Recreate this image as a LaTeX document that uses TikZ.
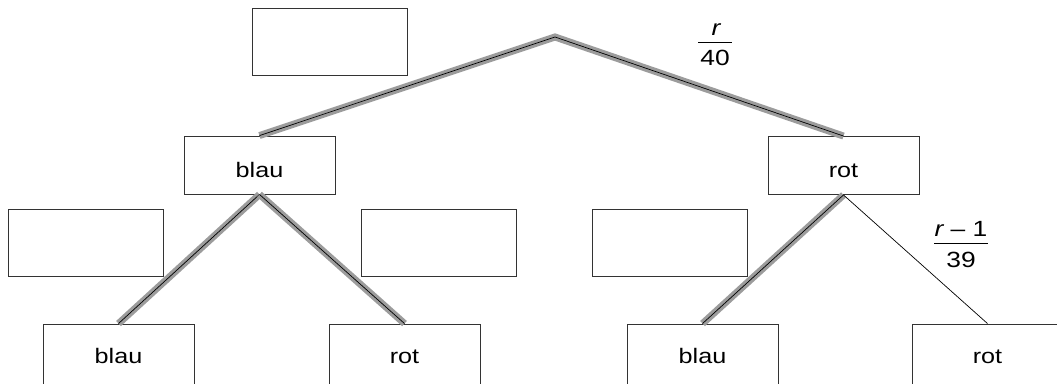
\documentclass[tikz,border=0pt]{standalone}
\usepackage{fontspec}
\setmainfont{Liberation Sans}[FakeStretch=1.2]
\definecolor{halo}{HTML}{9C9C9C}
\definecolor{boxline}{HTML}{333333}
\tikzset{
  box/.style={draw=boxline, line width=0.9pt, rectangle, minimum width=151pt, minimum height=58pt, inner sep=0pt, font=\fontsize{21}{24}\selectfont, text height=24pt, text depth=0pt},
  lbox/.style={box, minimum height=64pt, text height=20pt, text depth=5pt},
  blank/.style={draw=boxline, line width=0.9pt, rectangle, minimum width=155pt, minimum height=67pt, inner sep=0pt},
  halobg/.style={draw=halo, line width=7pt, line join=miter},
  thin/.style={draw=black, line width=0.7pt, line join=miter},
  frac/.style={font=\fontsize{22}{24}\selectfont, inner sep=0pt, anchor=base},
  fracbar/.style={draw=black, line width=0.9pt}
}
\begin{document}
\begin{tikzpicture}[x=1pt,y=-1pt]
\useasboundingbox (0,0) rectangle (1057,383);
\fill[white] (0,0) rectangle (1057,383);
% nodes
\coordinate (apex) at (555,37);
\node[blank] (b0) at (329.5,42) {};
\node[box] (m1) at (259.5,165) {blau};
\node[box] (m2) at (843.5,165.5) {rot};
\node[blank] (b1) at (85.5,242.5) {};
\node[blank] (b2) at (438.5,242.5) {};
\node[blank] (b3) at (669.5,242.5) {};
\node[lbox] (l1) at (118.5,356) {blau};
\node[lbox] (l2) at (404.5,356) {rot};
\node[lbox] (l3) at (702.5,356) {blau};
\node[lbox] (l4) at (987.5,356) {rot};
% connectors
\path[halobg] (m1.north) -- (apex) -- (m2.north);
\path[thin] (m1.north) -- (apex) -- (m2.north);
\path[halobg] (m1.south) -- (l1.north);
\path[thin] (m1.south) -- (l1.north);
\path[halobg] (m1.south) -- (l2.north);
\path[thin] (m1.south) -- (l2.north);
\path[halobg] (m2.south) -- (l3.north);
\path[thin] (m2.south) -- (l3.north);
\path[thin] (m2.south) -- (l4.north);
% labels
\node[frac] (f1n) at (716,35) {\itshape r};
\path[fracbar] (698,42) -- (732,42);
\node[frac] (f1d) at (715,65) {40};
\node[frac] (f2n) at (961,236) {{\itshape r} – 1};
\path[fracbar] (934,243) -- (988,243);
\node[frac] (f2d) at (961,267) {39};
\end{tikzpicture}
\end{document}
